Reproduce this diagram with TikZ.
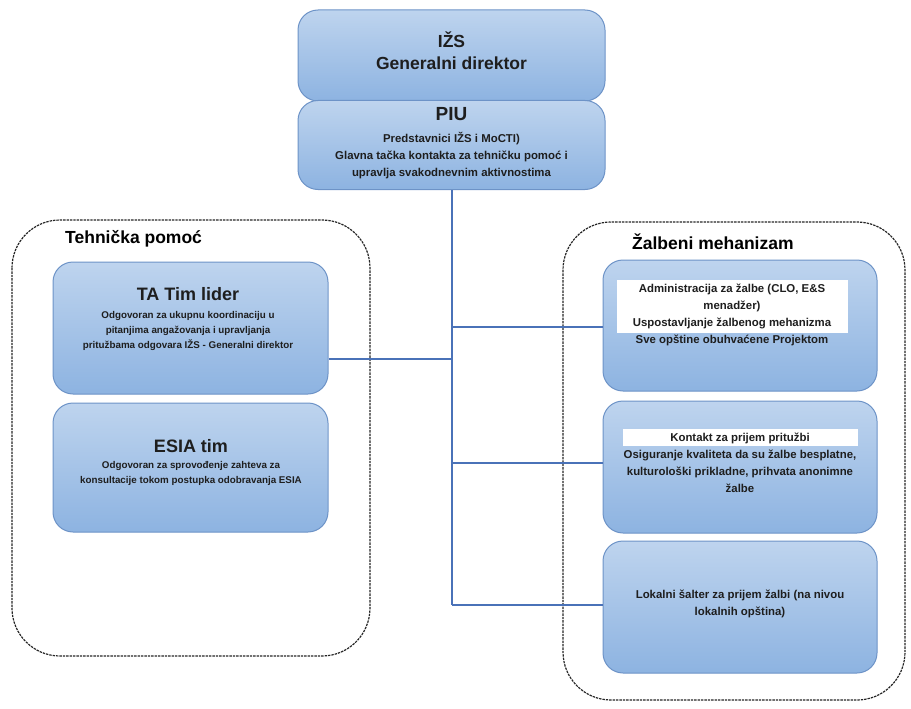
\documentclass[tikz,border=0pt]{standalone}
\usepackage{fontspec}
\setmainfont{Liberation Sans}
\usetikzlibrary{calc}
\definecolor{boxtop}{HTML}{BED4EE}
\definecolor{boxbot}{HTML}{8DB3E1}
\definecolor{boxedge}{HTML}{6D93C7}
\definecolor{conncol}{HTML}{4A72B8}
\definecolor{txt}{HTML}{1E1E1E}
\tikzset{
  bluebox/.style={draw=boxedge, line width=1pt, rounded corners=20pt, top color=boxtop, bottom color=boxbot, inner sep=0pt},
  container/.style={draw=black!85, line width=1.2pt, dash pattern=on 2.4pt off 1pt, rounded corners=48pt},
  conn/.style={draw=conncol, line width=2pt},
  small/.style={font=\bfseries\fontsize{9.8}{15}\selectfont, text=txt, align=center, inner sep=0pt},
  mid/.style={font=\bfseries\fontsize{11.4}{17}\selectfont, text=txt, align=center, inner sep=0pt},
  big/.style={font=\bfseries\fontsize{18}{21}\selectfont, text=txt, align=center, inner sep=0pt},
  ttl/.style={font=\bfseries\fontsize{17.5}{21}\selectfont, text=black, anchor=west, inner sep=0pt},
  hl/.style={fill=white, draw=none}
}
\begin{document}
\begin{tikzpicture}[x=1pt,y=-1pt]
\useasboundingbox (0,0) rectangle (911,709);
% containers
\draw[container] (12,220) rectangle (370,656);
\draw[container] (563,222) rectangle (905,700);
\node[ttl] (ttp) at (65,239) {Tehnička pomoć};
\node[ttl] (tzm) at (632,242) {Žalbeni mehanizam};
% top boxes
\node[bluebox, minimum width=307pt, minimum height=91pt] (izs) at (451.5,55.5) {};
\node[bluebox, minimum width=307pt, minimum height=89pt] (piu) at (451.5,145) {};
\node[font=\bfseries\fontsize{17.5}{21}\selectfont, text=txt, inner sep=0pt] (izs1) at (451.5,40) {IŽS};
\node[font=\bfseries\fontsize{17.5}{21}\selectfont, text=txt, inner sep=0pt] (izs2) at (451.5,63) {Generalni direktor};
\node[font=\bfseries\fontsize{19}{22}\selectfont, text=txt, inner sep=0pt] (piu1) at (451.5,114) {PIU};
\node[mid] (piu2) at (451.5,139) {Predstavnici IŽS i MoCTI)};
\node[mid] (piu3) at (451.5,165) {Glavna tačka kontakta za tehničku pomoć i\\upravlja svakodnevnim aktivnostima};
% left boxes
\node[bluebox, minimum width=275pt, minimum height=132pt] (ta) at (190.5,328) {};
\node[bluebox, minimum width=275pt, minimum height=129pt] (esia) at (190.5,467.5) {};
\node[big] (ta1) at (188,294) {TA Tim lider};
\node[small] (ta2) at (188,331) {Odgovoran za ukupnu koordinaciju u\\pitanjima angažovanja i upravljanja\\pritužbama odgovara IŽS - Generalni direktor};
\node[big] (es1) at (191,446) {ESIA tim};
\node[small] (es2) at (191,473) {Odgovoran za sprovođenje zahteva za\\konsultacije tokom postupka odobravanja ESIA};
% right boxes
\node[bluebox, minimum width=274pt, minimum height=131pt] (adm) at (740,325.5) {};
\node[bluebox, minimum width=274pt, minimum height=132pt] (kon) at (740,467) {};
\node[bluebox, minimum width=274pt, minimum height=132pt] (lok) at (740,607) {};
\node[hl, minimum width=231pt, minimum height=53pt, inner sep=0pt] (admhl) at (732.5,306.5) {};
\node[mid] (adm1) at (732,314.5) {Administracija za žalbe (CLO, E\&S\\menadžer)\\Uspostavljanje žalbenog mehanizma\\Sve opštine obuhvaćene Projektom};
\node[hl, minimum width=235pt, minimum height=17pt, inner sep=0pt] (konhl) at (740.5,437.5) {};
\node[mid] (kon1) at (740,462.5) {Kontakt za prijem pritužbi\\Osiguranje kvaliteta da su žalbe besplatne,\\kulturološki prikladne, prihvata anonimne\\žalbe};
\node[mid] (lok1) at (740,603.5) {Lokalni šalter za prijem žalbi (na nivou\\lokalnih opština)};
% connectors
\coordinate (jbot) at (451.5,605);
\coordinate (jta) at (451.5,359);
\coordinate (jadm) at (451.5,327);
\coordinate (jkon) at (451.5,463);
\draw[conn] (piu.south) -- (jbot);
\draw[conn] (ta.east |- jta) -- (jta);
\draw[conn] (jadm) -- (adm.west |- jadm);
\draw[conn] (jkon) -- (kon.west |- jkon);
\draw[conn] (jbot) -- (lok.west |- jbot);
\end{tikzpicture}
\end{document}
